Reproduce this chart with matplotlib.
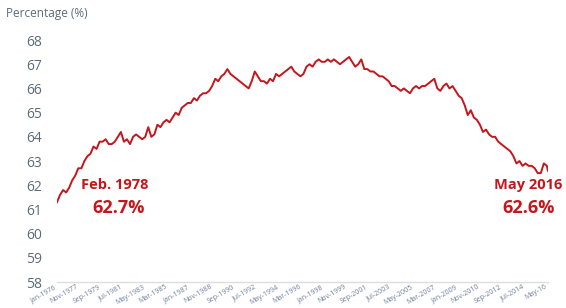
import numpy as np
import matplotlib
matplotlib.use("Agg")
import matplotlib.pyplot as plt

plt.rcParams['font.family'] = ['Open Sans', 'DejaVu Sans']

# labour force participation rate, quarterly readings (Jan 1976 .. Apr 2016) + May 2016
rate = [
    61.3, 61.6, 61.8, 61.7,   # 1976
    61.9, 62.2, 62.4, 62.7,   # 1977
    62.7, 63.0, 63.2, 63.3,   # 1978
    63.6, 63.5, 63.8, 63.8,   # 1979
    63.9, 63.7, 63.7, 63.8,   # 1980
    64.0, 64.2, 63.8, 63.9,   # 1981
    63.7, 64.0, 64.1, 64.0,   # 1982
    63.9, 64.0, 64.4, 64.0,   # 1983
    64.1, 64.5, 64.4, 64.6,   # 1984
    64.7, 64.6, 64.8, 65.0,   # 1985
    64.9, 65.2, 65.3, 65.4,   # 1986
    65.4, 65.6, 65.5, 65.7,   # 1987
    65.8, 65.8, 65.9, 66.1,   # 1988
    66.4, 66.3, 66.5, 66.6,   # 1989
    66.8, 66.6, 66.5, 66.4,   # 1990
    66.3, 66.2, 66.1, 66.0,   # 1991
    66.3, 66.7, 66.5, 66.3,   # 1992
    66.3, 66.2, 66.4, 66.3,   # 1993
    66.6, 66.5, 66.6, 66.7,   # 1994
    66.8, 66.9, 66.7, 66.6,   # 1995
    66.5, 66.6, 66.9, 67.0,   # 1996
    66.9, 67.1, 67.2, 67.1,   # 1997
    67.1, 67.2, 67.1, 67.2,   # 1998
    67.1, 67.0, 67.1, 67.2,   # 1999
    67.3, 67.1, 66.9, 67.0,   # 2000
    67.2, 66.8, 66.8, 66.7,   # 2001
    66.7, 66.6, 66.5, 66.5,   # 2002
    66.4, 66.3, 66.1, 66.1,   # 2003
    66.0, 65.9, 66.0, 65.9,   # 2004
    65.8, 66.0, 66.1, 66.0,   # 2005
    66.1, 66.1, 66.2, 66.3,   # 2006
    66.4, 66.0, 65.9, 66.1,   # 2007
    66.2, 66.0, 66.1, 65.9,   # 2008
    65.7, 65.6, 65.3, 64.9,   # 2009
    65.1, 64.8, 64.7, 64.5,   # 2010
    64.2, 64.3, 64.1, 64.0,   # 2011
    64.0, 63.8, 63.7, 63.6,   # 2012
    63.5, 63.4, 63.2, 62.9,   # 2013
    63.0, 62.8, 62.9, 62.8,   # 2014
    62.8, 62.7, 62.5, 62.5,   # 2015
    62.9, 62.8,               # 2016 Jan, Apr
    62.6,                     # May 2016
]
months = list(range(0, 484, 3)) + [484]   # months since Jan 1976

tick_labels = ["Jan-1976", "Nov-1977", "Sep-1979", "Jul-1981", "May-1983", "Mar-1985",
               "Jan-1987", "Nov-1988", "Sep-1990", "Jul-1992", "May-1994", "Mar-1996",
               "Jan-1998", "Nov-1999", "Sep-2001", "Jul-2003", "May-2005", "Mar-2007",
               "Jan-2009", "Nov-2010", "Sep-2012", "Jul-2014", "May-16"]
tick_pos = np.arange(0, 485, 22)

red = '#c4161c'
grey = '#5d6b78'

fig = plt.figure(figsize=(5.66, 3.08), dpi=100)
ax = fig.add_axes([0.1007, 0.0844, 0.8673, 0.7856])
ax.plot(months, rate, color=red, lw=1.4)

ax.set_xlim(0, 484)
ax.set_ylim(58, 68)
ax.set_yticks(range(58, 69))
ax.set_xticks(tick_pos)
ax.set_xticklabels(tick_labels, rotation=30, ha='right', fontsize=5, color='#6f7f9a')
ax.tick_params(axis='y', length=0, pad=11, labelsize=10, labelcolor=grey)
ax.tick_params(axis='x', length=0, pad=1)
for s in ['top', 'right', 'left']:
    ax.spines[s].set_visible(False)
ax.spines['bottom'].set_color('#dddddd')
ax.spines['bottom'].set_linewidth(1)

ax.text(57, 62.0, "Feb. 1978", color=red, fontsize=10.5, fontweight='bold', ha='center', va='center')
ax.text(61, 61.05, "62.7%", color=red, fontsize=13, fontweight='bold', ha='center', va='center')
ax.text(465, 62.0, "May 2016", color=red, fontsize=10.5, fontweight='bold', ha='center', va='center')
ax.text(465, 61.05, "62.6%", color=red, fontsize=13, fontweight='bold', ha='center', va='center')

fig.text(0.01, 0.955, "Percentage (%)", color=grey, fontsize=8.5, ha='left', va='center')

fig.savefig("out.png", dpi=100)
